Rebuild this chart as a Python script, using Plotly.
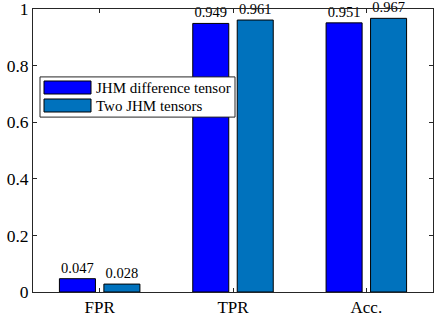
import plotly.graph_objects as go

categories = ["FPR", "TPR", "Acc."]
series_names = ["JHM difference tensor", "Two JHM tensors"]
diff_tensor = [0.047, 0.949, 0.951]
two_tensors = [0.028, 0.961, 0.967]
series_colors = ["#0000FF", "#0072BD"]
y_ticks = [0, 0.2, 0.4, 0.6, 0.8, 1]
y_tick_labels = ["0", "0.2", "0.4", "0.6", "0.8", "1"]

x_pos = list(range(1, len(categories) + 1))
font_family = "Liberation Serif"
axis_color = "#262626"

fig = go.Figure()
for name, vals, color in zip(series_names, [diff_tensor, two_tensors], series_colors):
    fig.add_trace(go.Bar(
        x=x_pos, y=vals, name=name,
        marker=dict(color=color, line=dict(color="#000000", width=1)),
        text=[f"{v:.3f}" for v in vals], textposition="outside",
        textfont=dict(family=font_family, size=14.5, color="#000000"),
        cliponaxis=False, showlegend=False,
    ))

# legend box (MATLAB style, wide swatches)
fig.add_shape(type="rect", xref="paper", yref="paper",
              x0=0.0175, x1=0.505, y0=0.618, y1=0.760,
              line=dict(color=axis_color, width=1), fillcolor="white", layer="above")
sw_y = [(0.6996, 0.7456), (0.636, 0.682)]
for (y0, y1), name, color in zip(sw_y, series_names, series_colors):
    fig.add_shape(type="rect", xref="paper", yref="paper",
                  x0=0.0275, x1=0.145, y0=y0, y1=y1,
                  line=dict(color="#000000", width=1), fillcolor=color, layer="above")
    fig.add_annotation(xref="paper", yref="paper", x=0.1525, y=(y0 + y1) / 2,
                       xanchor="left", yanchor="middle", text=name, showarrow=False,
                       font=dict(family=font_family, size=15, color="#000000"))

fig.update_layout(
    width=443, height=320,
    margin=dict(l=33, r=10, t=9, b=28, autoexpand=False),
    paper_bgcolor="white", plot_bgcolor="white",
    barmode="group", bargap=0.333, bargroupgap=0.19,
    font=dict(family=font_family, size=17, color="#000000"),
    showlegend=False,
)
fig.update_xaxes(
    range=[0.5, 3.5], tickvals=x_pos, ticktext=categories,
    showline=True, linecolor=axis_color, linewidth=1, mirror="ticks",
    ticks="inside", ticklen=4, tickcolor=axis_color,
    showgrid=False, zeroline=False, automargin=False,
    ticklabeloverflow="allow",
    tickfont=dict(family=font_family, size=17, color="#000000"),
)
fig.update_yaxes(
    range=[0, 1], tickvals=y_ticks, ticktext=y_tick_labels,
    showline=True, linecolor=axis_color, linewidth=1, mirror="ticks",
    ticks="inside", ticklen=4, tickcolor=axis_color,
    showgrid=False, zeroline=False, automargin=False,
    ticklabeloverflow="allow",
    tickfont=dict(family=font_family, size=17.5, color="#000000"),
)

fig.write_html("out.html")
